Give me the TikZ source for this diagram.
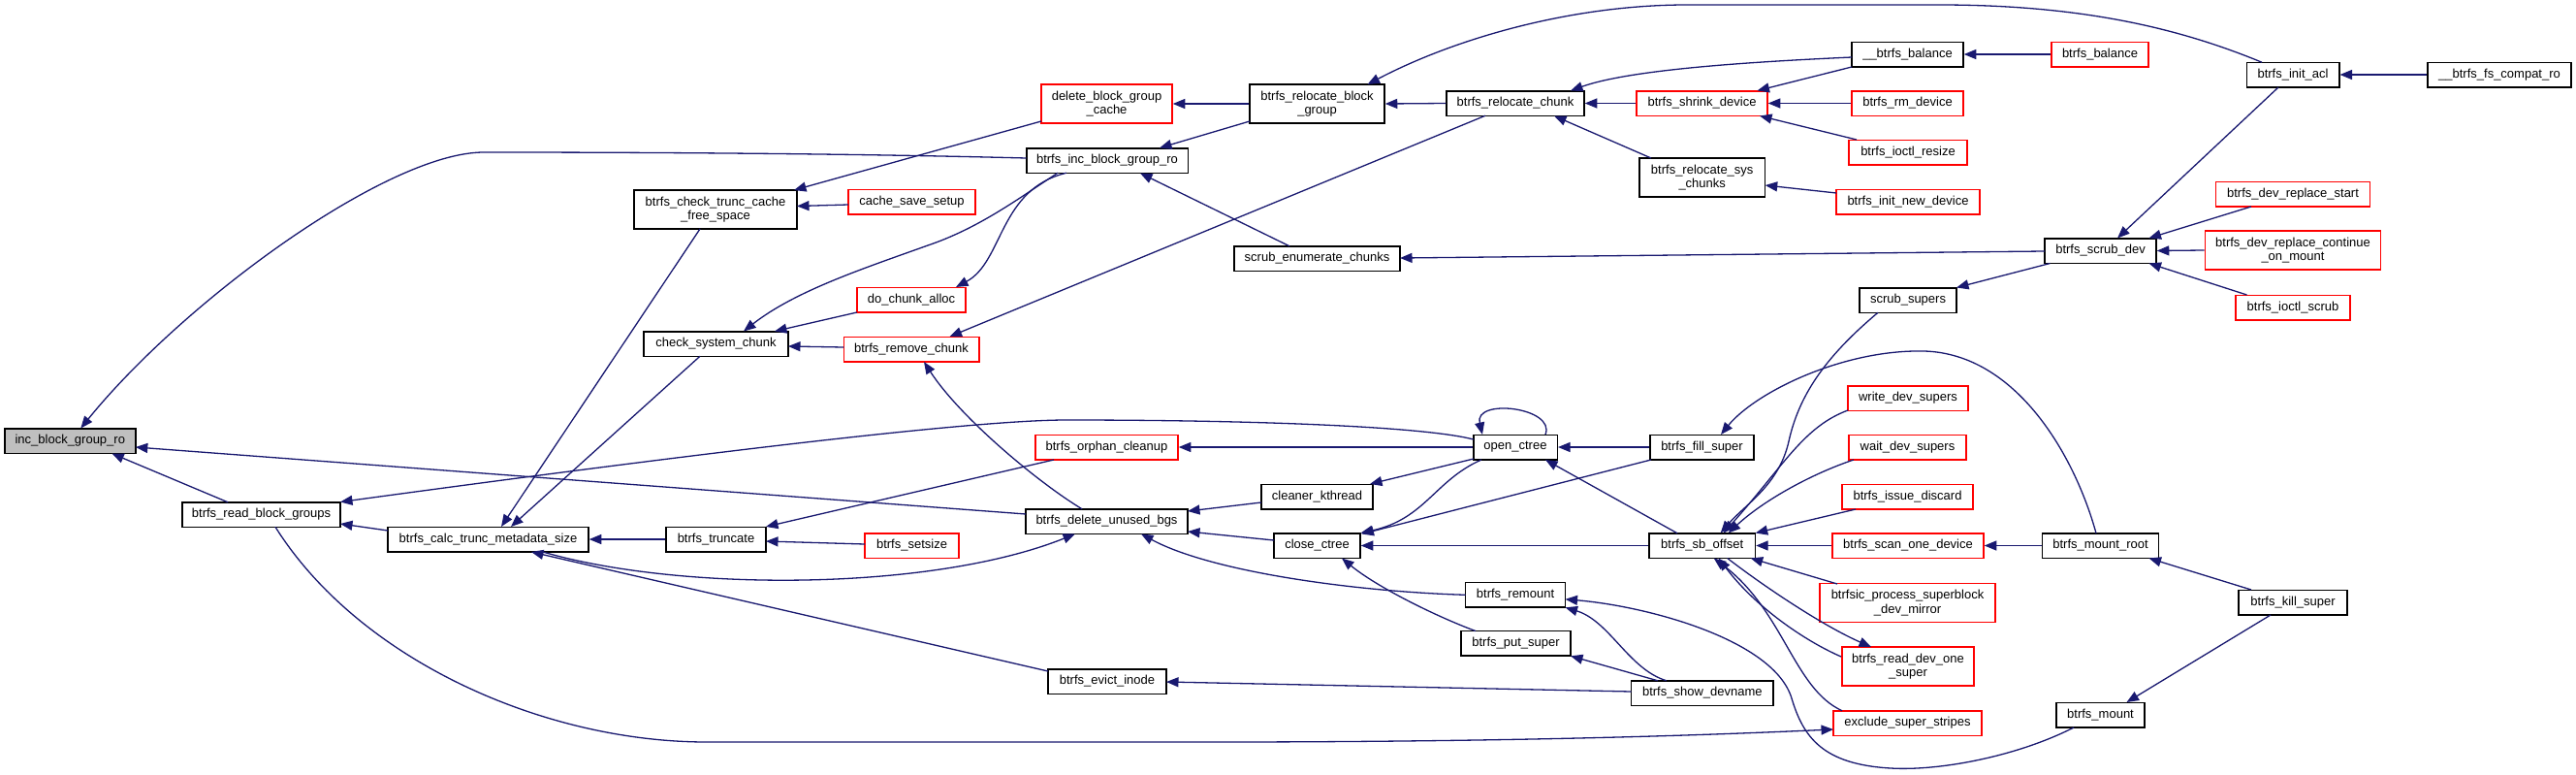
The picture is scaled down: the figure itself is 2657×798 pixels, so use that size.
\documentclass[tikz,border=0pt]{standalone}
\usepackage{fontspec}
\setmainfont{Liberation Sans}
\usetikzlibrary{arrows.meta,calc}
\definecolor{edgec}{HTML}{191970}
\definecolor{grayfill}{HTML}{BFBFBF}
\begin{document}
\begin{tikzpicture}[x=1pt,y=-1pt,
  box/.style={draw=black, line width=1.5pt, fill=white, inner sep=0pt, minimum height=25.5pt, align=center, font=\fontsize{13}{14.5}\selectfont},
  dbl/.style={minimum height=40pt},
  redb/.style={draw=red},
  conn/.style={draw=edgec, line width=1.3pt, -{Triangle[length=12.5pt,width=10pt]}}]
\useasboundingbox[fill=white] (0,0) rectangle (2657,798);

\node[box, fill=grayfill, minimum width=135pt] (inc) at (72.3,454.5) {inc\_block\_group\_ro};
\node[box, minimum width=163pt] (rbg) at (269.5,530.5) {btrfs\_read\_block\_groups};
\node[box, minimum width=207pt] (calcm) at (503.5,556) {btrfs\_calc\_trunc\_metadata\_size};
\node[box, dbl, minimum width=168pt] (ctc) at (738,216) {btrfs\_check\_trunc\_cache\\\_free\_space};
\node[box, minimum width=149pt] (csc) at (738.5,354.5) {check\_system\_chunk};
\node[box, minimum width=103pt] (trunc) at (738.5,556) {btrfs\_truncate};
\node[box, redb, minimum width=131pt] (css) at (940.5,208) {cache\_save\_setup};
\node[box, redb, minimum width=112pt] (dca) at (940,309) {do\_chunk\_alloc};
\node[box, redb, minimum width=139.5pt] (rmc) at (940,360) {btrfs\_remove\_chunk};
\node[box, redb, minimum width=97pt] (setsz) at (940.5,562.5) {btrfs\_setsize};
\node[box, redb, dbl, minimum width=135pt] (dbgc) at (1141.5,107) {delete\_block\_group\\\_cache};
\node[box, minimum width=166.5pt] (bibg) at (1142,165.5) {btrfs\_inc\_block\_group\_ro};
\node[box, redb, minimum width=147pt] (orph) at (1141.5,461) {btrfs\_orphan\_cleanup};
\node[box, minimum width=167pt] (dub) at (1141.5,537.5) {btrfs\_delete\_unused\_bgs};
\node[box, minimum width=122pt] (evict) at (1142,702.5) {btrfs\_evict\_inode};
\node[box, dbl, minimum width=139pt] (rbgrp) at (1358.5,107) {btrfs\_relocate\_block\\\_group};
\node[box, minimum width=171pt] (sec) at (1358.5,266.5) {scrub\_enumerate\_chunks};
\node[box, minimum width=115pt] (clk) at (1358.5,512) {cleaner\_kthread};
\node[box, minimum width=89pt] (closec) at (1358.5,562.5) {close\_ctree};
\node[box, minimum width=142pt] (rchunk) at (1563,106.5) {btrfs\_relocate\_chunk};
\node[box, minimum width=86.5pt] (octree) at (1563,461) {open\_ctree};
\node[box, minimum width=103pt] (remount) at (1563,613.3) {btrfs\_remount};
\node[box, minimum width=113pt] (putsup) at (1563.5,663.3) {btrfs\_put\_super};
\node[box, redb, minimum width=135pt] (shrink) at (1755.5,106.5) {btrfs\_shrink\_device};
\node[box, dbl, minimum width=129.5pt] (rsys) at (1755.7,183) {btrfs\_relocate\_sys\\\_chunks};
\node[box, minimum width=107pt] (fillsup) at (1755.5,461) {btrfs\_fill\_super};
\node[box, minimum width=109.5pt] (sbo) at (1755.7,562.5) {btrfs\_sb\_offset};
\node[box, minimum width=146.4pt] (showdev) at (1755.8,714.5) {btrfs\_show\_devname};
\node[box, minimum width=115pt] (ubal) at (1967.5,56) {\_\_btrfs\_balance};
\node[box, redb, minimum width=115pt] (rmdev) at (1967.5,106.5) {btrfs\_rm\_device};
\node[box, redb, minimum width=122pt] (ioresz) at (1968,157) {btrfs\_ioctl\_resize};
\node[box, redb, minimum width=148pt] (initnew) at (1968,208) {btrfs\_init\_new\_device};
\node[box, minimum width=100pt] (ssup) at (1968,309.5) {scrub\_supers};
\node[box, redb, minimum width=124pt] (wds) at (1968,410.5) {write\_dev\_supers};
\node[box, redb, minimum width=121pt] (wtds) at (1967.5,461) {wait\_dev\_supers};
\node[box, redb, minimum width=135pt] (issue) at (1967.5,512) {btrfs\_issue\_discard};
\node[box, redb, minimum width=156pt] (scan) at (1968,562.5) {btrfs\_scan\_one\_device};
\node[box, redb, dbl, minimum width=181pt] (bsic) at (1967.5,621.5) {btrfsic\_process\_superblock\\\_dev\_mirror};
\node[box, redb, dbl, minimum width=136pt] (rdos) at (1968,687) {btrfs\_read\_dev\_one\\\_super};
\node[box, redb, minimum width=153pt] (exss) at (1967.5,745.5) {exclude\_super\_stripes};
\node[box, redb, minimum width=100pt] (bal) at (2166,56) {btrfs\_balance};
\node[box, minimum width=115pt] (scrubdev) at (2166.5,258.5) {btrfs\_scrub\_dev};
\node[box, minimum width=120pt] (mroot) at (2166.5,562.5) {btrfs\_mount\_root};
\node[box, minimum width=91pt] (mount) at (2166.5,737) {btrfs\_mount};
\node[box, minimum width=95.5pt] (iacl) at (2365,77) {btrfs\_init\_acl};
\node[box, redb, minimum width=158.6pt] (drs) at (2365,200) {btrfs\_dev\_replace\_start};
\node[box, redb, dbl, minimum width=181.4pt] (drc) at (2365,258) {btrfs\_dev\_replace\_continue\\\_on\_mount};
\node[box, redb, minimum width=118pt] (iscrub) at (2365,317) {btrfs\_ioctl\_scrub};
\node[box, minimum width=112pt] (kill) at (2365,621) {btrfs\_kill\_super};
\node[box, minimum width=148.3pt] (compat) at (2578,77) {\_\_btrfs\_fs\_compat\_ro};

\draw[conn] ($(bibg)+(-83.5,-2.5)$) .. controls (868,158) and (650,157) .. (499,157) .. controls (400,157) and (190,310) .. ($(inc)+(11,-13)$);
\draw[conn] ($(rbg)+(-34.5,-12.75)$) -- ($(inc)+(43,13)$);
\draw[conn] ($(dub)+(-83.5,-7.5)$) -- ($(inc)+(67.5,6.5)$);
\draw[conn] ($(calcm)+(-103.5,-9)$) -- ($(rbg)+(81.5,9.5)$);
\draw[conn] ($(octree)+(-43.25,-8)$) .. controls (1470,440) and (1300,433) .. (1100,433) .. controls (1000,433) and (700,470) .. ($(rbg)+(81.5,-13)$);
\draw[conn] ($(ctc)+(-16,20)$) -- ($(calcm)+(13.5,-13)$);
\draw[conn] ($(csc)+(-16.5,12.75)$) -- ($(calcm)+(23.5,-13)$);
\draw[conn] (trunc.west) -- (calcm.east);
\draw[conn] ($(evict)+(-61,-10.5)$) -- ($(calcm)+(44.5,13)$);
\draw[conn] ($(calcm)+(56.5,13)$) .. controls (700,610) and (960,610) .. ($(dub)+(-32.5,13)$);
\draw[conn] ($(rbg)+(14.5,12.75)$) .. controls (370,680) and (560,765) .. (729,765) -- (1250,765) .. controls (1600,765) and (1800,756) .. ($(exss)+(-76.5,6.5)$);
\draw[conn] ($(dbgc)+(-67.5,18)$) -- ($(ctc)+(81,-20)$);
\draw[conn] ($(css)+(-65.5,3)$) -- ($(ctc)+(84,-3.5)$);
\draw[conn] ($(bibg)+(-51,12.75)$) .. controls (1050,205) and (1010,235) .. (957,253) .. controls (890,277) and (820,300) .. ($(csc)+(28.5,-13)$);
\draw[conn] ($(bibg)+(-42,12.75)$) .. controls (1030,195) and (1035,270) .. ($(dca)+(46,-13)$);
\draw[conn] ($(dca)+(-56,13)$) -- ($(csc)+(60.5,-13)$);
\draw[conn] ($(rmc)+(-69.75,-2)$) -- ($(csc)+(74.5,2.5)$);
\draw[conn] ($(orph)+(-54.5,13)$) -- ($(trunc)+(51.5,-13)$);
\draw[conn] ($(setsz)+(-48.5,-1.5)$) -- ($(trunc)+(51.5,2)$);
\draw[conn] ($(dub)+(-25.5,-12.75)$) .. controls (1070,497) and (990,430) .. ($(rmc)+(13,13)$);
\draw[conn] ($(rchunk)+(-31,12.75)$) -- ($(rmc)+(39.5,-13)$);
\draw[conn] (rbgrp.west) -- (dbgc.east);
\draw[conn] ($(rbgrp)+(-69.5,18)$) -- ($(bibg)+(54,-13)$);
\draw[conn] ($(sec)+(-28.5,-12.75)$) -- ($(bibg)+(34,13)$);
\draw[conn] (octree.west) -- (orph.east);
\draw[conn] ($(clk)+(-57.5,6)$) -- ($(dub)+(83.5,-10.5)$);
\draw[conn] ($(closec)+(-44.5,-5.5)$) -- ($(dub)+(83.5,10.5)$);
\draw[conn] ($(remount)+(-51.5,0)$) .. controls (1400,610) and (1250,590) .. ($(dub)+(35.5,13)$);
\draw[conn] ($(showdev)+(-73.2,-1.5)$) -- ($(evict)+(61,0.5)$);
\draw[conn] (rchunk.west) -- (rbgrp.east);
\draw[conn] ($(iacl)+(-32,-12.75)$) .. controls (2250,30) and (2150,5) .. (2000,5) -- (1740,5) .. controls (1620,5) and (1500,40) .. ($(rbgrp)+(52,-20)$);
\draw[conn] ($(scrubdev)+(-57.5,0.5)$) -- ($(sec)+(85.5,-0.5)$);
\draw[conn] ($(octree)+(-43,12)$) -- ($(clk)+(54.5,-13)$);
\draw[conn] ($(octree)+(-35,13)$) .. controls (1480,495) and (1470,535) .. ($(closec)+(45,-13)$);
\draw[conn] ($(fillsup)+(-52.5,13)$) -- ($(closec)+(46,-12)$);
\draw[conn] (sbo.west) -- (closec.east);
\draw[conn] ($(putsup)+(-41.5,-12.75)$) .. controls (1480,635) and (1420,605) .. ($(closec)+(25.5,13)$);
\draw[conn] ($(showdev)+(-37,-12.75)$) .. controls (1680,690) and (1660,640) .. ($(remount)+(51.5,13)$);
\draw[conn] ($(mount)+(-27.5,13)$) .. controls (2080,780) and (2000,795) .. (1950,792) .. controls (1880,788) and (1860,760) .. (1848,720) .. controls (1830,660) and (1700,625) .. ($(remount)+(51.5,4.5)$);
\draw[conn] ($(showdev)+(-46,-12.75)$) -- ($(putsup)+(56.5,13)$);
\draw[conn] ($(octree)+(31,-13)$) .. controls (1605,420) and (1520,410) .. ($(octree)+(-34,-13)$);
\draw[conn] (fillsup.west) -- (octree.east);
\draw[conn] ($(sbo)+(-25.7,-12.75)$) -- ($(octree)+(31,13)$);
\draw[conn] ($(ubal)+(-57.5,3)$) .. controls (1800,64) and (1680,72) .. ($(rchunk)+(57,-13)$);
\draw[conn] (shrink.west) -- (rchunk.east);
\draw[conn] ($(rsys)+(-52.7,-20)$) -- ($(rchunk)+(40,13)$);
\draw[conn] ($(ubal)+(-57.5,13)$) -- ($(shrink)+(57,-13)$);
\draw[conn] (rmdev.west) -- (shrink.east);
\draw[conn] ($(ioresz)+(-53,-13)$) -- ($(shrink)+(59.5,13)$);
\draw[conn] ($(initnew)+(-74,-9)$) -- ($(rsys)+(65,8)$);
\draw[conn] ($(mroot)+(-4.5,-12.75)$) .. controls (2140,470) and (2080,365) .. (1985,362) .. controls (1900,360) and (1810,405) .. ($(fillsup)+(19.5,-13)$);
\draw[conn] ($(ssup)+(-31,12.75)$) .. controls (1880,370) and (1855,410) .. (1845,455) .. controls (1835,500) and (1800,520) .. ($(sbo)+(19,-13)$);
\draw[conn] ($(wds)+(-62,12.5)$) .. controls (1860,440) and (1840,480) .. ($(sbo)+(22,-13)$);
\draw[conn] ($(wtds)+(-55.5,13)$) .. controls (1870,488) and (1820,515) .. ($(sbo)+(27,-13)$);
\draw[conn] ($(issue)+(-53.5,13)$) -- ($(sbo)+(55,-13)$);
\draw[conn] (scan.west) -- (sbo.east);
\draw[conn] ($(bsic)+(-72.5,-19.5)$) -- ($(sbo)+(50,13)$);
\draw[conn] ($(sbo)+(26,13)$) .. controls (1820,605) and (1880,645) .. ($(rdos)+(-38,-20)$);
\draw[conn] ($(rdos)+(-69,-10)$) .. controls (1860,660) and (1810,625) .. ($(sbo)+(17,13)$);
\draw[conn] ($(exss)+(-67.5,-12.75)$) .. controls (1850,710) and (1840,630) .. ($(sbo)+(12,13)$);
\draw[conn] (bal.west) -- (ubal.east);
\draw[conn] ($(scrubdev)+(-52,13)$) -- ($(ssup)+(50,-13)$);
\draw[conn] ($(iacl)+(-15,13)$) -- ($(scrubdev)+(17.5,-13)$);
\draw[conn] ($(drs)+(-43,13)$) -- ($(scrubdev)+(50,-13)$);
\draw[conn] (drc.west) -- (scrubdev.east);
\draw[conn] ($(iscrub)+(-47.5,-13)$) -- ($(scrubdev)+(50,13)$);
\draw[conn] (compat.west) -- (iacl.east);
\draw[conn] (mroot.west) -- (scan.east);
\draw[conn] ($(kill)+(-43,-13)$) -- ($(mroot)+(50,13)$);
\draw[conn] ($(kill)+(-23,13)$) -- ($(mount)+(27,-13)$);
\end{tikzpicture}
\end{document}
